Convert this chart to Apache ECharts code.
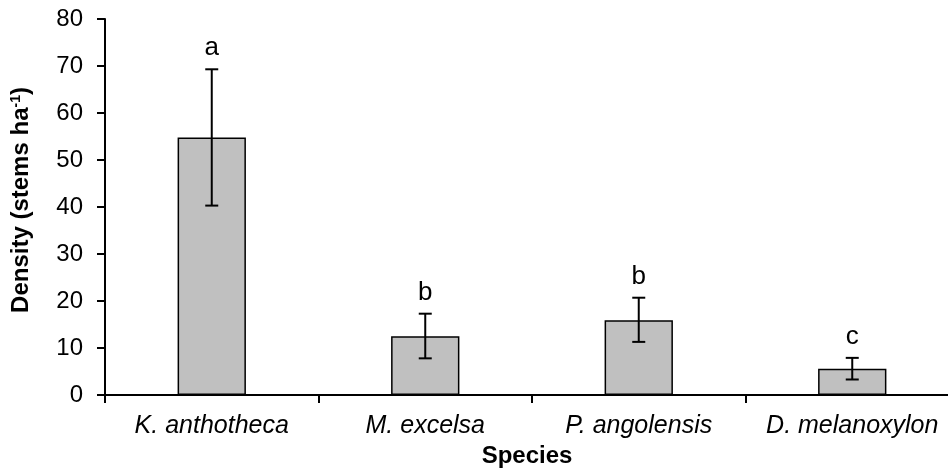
<!DOCTYPE html>
<html><head><meta charset="utf-8">
<script src="https://cdn.jsdelivr.net/npm/echarts@6/dist/echarts.min.js"></script>
<style>html,body{margin:0;padding:0;background:#fff}#c{width:948px;height:468px}</style>
</head><body><div id="c"></div>
<script>
const categories = ['K. anthotheca', 'M. excelsa', 'P. angolensis', 'D. melanoxylon'];
const density = [54.8, 12.5, 15.9, 5.6];
const errLow = [40.3, 7.8, 11.3, 3.3];
const errHigh = [69.3, 17.3, 20.7, 7.9];
const letters = ['a', 'b', 'b', 'c'];
const yTicks = [0, 10, 20, 30, 40, 50, 60, 70, 80];

const chart = echarts.init(document.getElementById('c'));
const F = 'Liberation Sans, Arial, sans-serif';
chart.setOption({
  animation: false,
  grid: { left: 105, right: -11, top: 19, bottom: 73, containLabel: false, outerBoundsMode: 'none' },
  xAxis: {
    type: 'category', data: categories,
    name: 'Species', nameLocation: 'middle', nameGap: 47,
    nameTextStyle: { fontFamily: F, fontSize: 24, fontWeight: 'bold', color: '#000', padding: [0, 0, 0, -10] },
    axisLine: { lineStyle: { color: '#000', width: 2 } },
    axisTick: { show: true, alignWithLabel: false, length: 8, lineStyle: { color: '#000', width: 2 } },
    axisLabel: { fontFamily: F, fontSize: 25, fontStyle: 'italic', color: '#000', margin: 19, interval: 0 }
  },
  yAxis: {
    type: 'value', min: yTicks[0], max: yTicks[yTicks.length - 1], interval: 10,
    name: '{b|Density (stems ha}{s|-1}{b|)}', nameLocation: 'middle', nameGap: 72, nameRotate: 90,
    nameTextStyle: { rich: {
      b: { fontFamily: F, fontSize: 24, fontWeight: 'bold', color: '#000' },
      s: { fontFamily: F, fontSize: 14, fontWeight: 'bold', color: '#000', verticalAlign: 'top', padding: [0, 0, 10, 0] }
    }, padding: [0, 0, 0, 14] },
    splitLine: { show: false },
    axisLine: { show: true, lineStyle: { color: '#000', width: 2 } },
    axisTick: { show: true, length: 8, lineStyle: { color: '#000', width: 2 } },
    axisLabel: { fontFamily: F, fontSize: 24, color: '#000', margin: 22 }
  },
  series: [
    {
      type: 'bar', data: density, barWidth: '32%',
      itemStyle: { color: '#c0c0c0', borderColor: '#000', borderWidth: 1.5 }
    },
    {
      type: 'custom',
      data: categories.map((c, i) => [i, errLow[i], errHigh[i], letters[i]]),
      renderItem: function (params, api) {
        const x = api.coord([api.value(0), 0])[0];
        const lo = api.coord([api.value(0), api.value(1)])[1];
        const hi = api.coord([api.value(0), api.value(2)])[1];
        const w = 6.5;
        const st = { stroke: '#000', lineWidth: 2 };
        return { type: 'group', children: [
          { type: 'line', shape: { x1: x, y1: lo, x2: x, y2: hi }, style: st },
          { type: 'line', shape: { x1: x - w, y1: lo, x2: x + w, y2: lo }, style: st },
          { type: 'line', shape: { x1: x - w, y1: hi, x2: x + w, y2: hi }, style: st },
          { type: 'text', style: { text: api.value(3), x: x, y: hi - 8, align: 'center', verticalAlign: 'bottom',
            font: '26px ' + F, fill: '#000' } }
        ] };
      },
      z: 5
    }
  ]
});
</script></body></html>
